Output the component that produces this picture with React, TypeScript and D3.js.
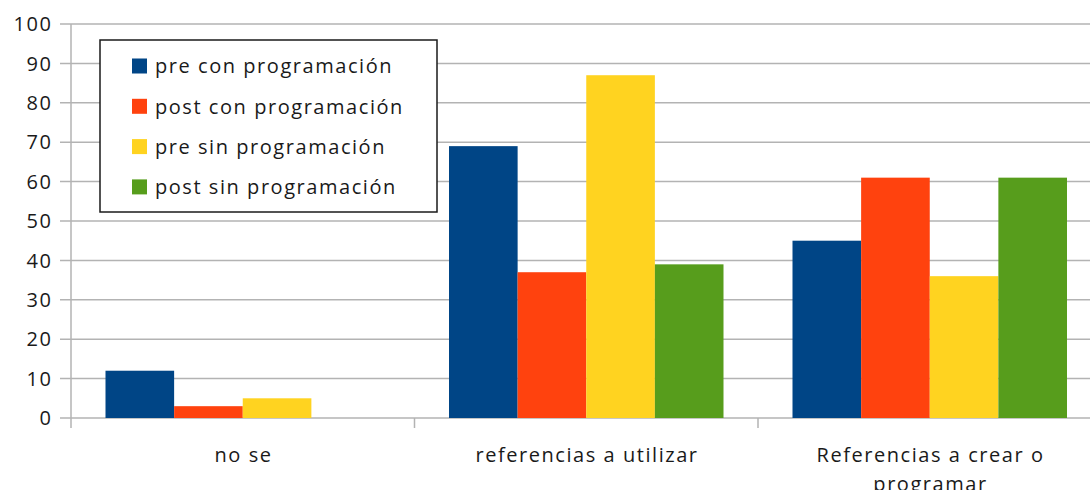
import React from "react";
import * as d3 from "d3";

const categories = ["no se", "referencias a utilizar", "Referencias a crear o programar"];
const categoryLines = [["no se"], ["referencias a utilizar"], ["Referencias a crear o", "programar"]];
const seriesNames = ["pre con programación", "post con programación", "pre sin programación", "post sin programación"];
const preCon = [12, 69, 45];
const postCon = [3, 37, 61];
const preSin = [5, 87, 36];
const postSin = [0, 39, 61];
const seriesValues = [preCon, postCon, preSin, postSin];
const colors = ["#004586", "#ff420e", "#ffd320", "#579d1c"];
const yTicks = [0, 10, 20, 30, 40, 50, 60, 70, 80, 90, 100];

const W = 1090, H = 490;
const x0 = 71, catW = 343.5;
const FONT = "'Open Sans', sans-serif";
const LS = 1.55;

export default function App() {
  const y = d3.scaleLinear().domain([0, 100]).range([418, 24]);
  const x = d3.scaleBand<string>().domain(categories).range([x0, x0 + catW * categories.length]).padding(0);
  const xs = d3.scaleBand<string>().domain(seriesNames).range([34.5, catW - 34.5]).padding(0);
  const grid = "#b3b3b3";
  return (
    <svg width={W} height={H} style={{ position: "absolute", left: 0, top: 0, background: "#fff" }} fontFamily={FONT}>
      {yTicks.map((t) => (
        <line key={t} x1={60} x2={W} y1={y(t)} y2={y(t)} stroke={grid} strokeWidth={1.5} />
      ))}
      <line x1={x0} x2={x0} y1={y(100)} y2={428} stroke={grid} strokeWidth={1.5} />
      {categories.map((c) => (
        <line key={c} x1={x(c)! + catW} x2={x(c)! + catW} y1={418} y2={428} stroke={grid} strokeWidth={1.5} />
      ))}
      {yTicks.map((t) => (
        <text key={t} x={51 + LS} y={y(t)} dy="0.36em" textAnchor="end" fontSize={20} letterSpacing={LS} fill="#1a1a1a">{t}</text>
      ))}
      {categories.map((c, ci) =>
        seriesNames.map((s, si) => {
          const v = seriesValues[si][ci];
          if (!v) return null;
          return (
            <rect key={c + s} x={x(c)! + xs(s)!} width={xs.bandwidth()} y={y(v)} height={y(0) - y(v)} fill={colors[si]} />
          );
        })
      )}
      {categories.map((c, ci) => (
        <text key={c} x={x(c)! + catW / 2} y={462} textAnchor="middle" fontSize={20} letterSpacing={LS} fill="#1a1a1a">
          {categoryLines[ci].map((l, li) => (
            <tspan key={li} x={x(c)! + catW / 2 + LS / 2} dy={li === 0 ? 0 : 29}>{l}</tspan>
          ))}
        </text>
      ))}
      <rect x={100} y={40} width={337} height={172} fill="#fff" stroke="#1a1a1a" strokeWidth={1.5} />
      {seriesNames.map((s, i) => (
        <g key={s} transform={`translate(132, ${66 + i * 40.3})`}>
          <rect x={0} y={-7.5} width={15} height={15} fill={colors[i]} />
          <text x={23} y={0} dy="0.36em" fontSize={20} letterSpacing={LS} fill="#1a1a1a">{s}</text>
        </g>
      ))}
    </svg>
  );
}
